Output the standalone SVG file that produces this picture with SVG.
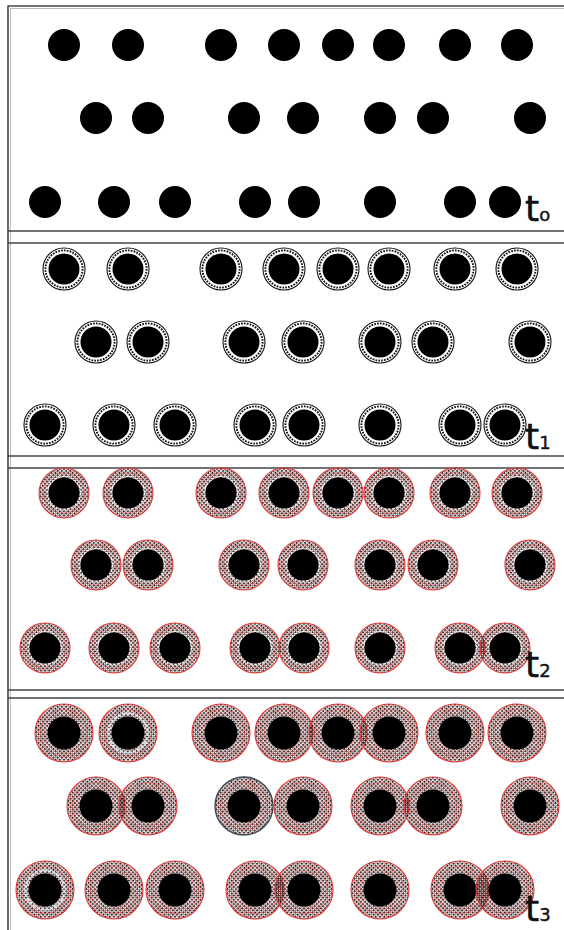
<svg xmlns="http://www.w3.org/2000/svg" xmlns:xlink="http://www.w3.org/1999/xlink" width="564" height="930" viewBox="0 0 564 930">
<style>
.frame{stroke:#444;stroke-width:1.6;fill:none}
.frame2{stroke:#bbb;stroke-width:1;fill:none}
.lbl{font-family:"DejaVu Sans",sans-serif;font-size:36px;fill:#111;stroke:#111;stroke-width:0.6}
.sub{font-size:18px;stroke-width:0.4}
.core{fill:#000}
.red{stroke:#e23a3a;fill:none}
.band{fill:url(#mesh);stroke:#e23a3a}
</style>
<defs>
<pattern id="mesh" width="3" height="3" patternUnits="userSpaceOnUse" patternTransform="rotate(45)">
<rect width="1.8" height="1.8" fill="#111"/>
<rect x="1.8" y="1.8" width="1.2" height="1.2" fill="#d84040" opacity="0.7"/>
</pattern>
<g id="d0"><circle r="16" class="core"/></g>
<g id="d1">
<circle r="21" fill="none" stroke="#111" stroke-width="1.1"/>
<circle r="18.6" fill="none" stroke="#111" stroke-width="1.9" stroke-dasharray="1.7 1.2"/>
<circle r="15.5" class="core"/>
</g>
<g id="d2">
<circle r="25" class="band" stroke-width="1.1"/>
<circle r="20.5" class="red" stroke-width="0.6" opacity="0.7"/>
<circle r="16.5" fill="none" stroke="#fff" stroke-width="1.2" stroke-dasharray="2 2"/>
<circle r="15.5" class="core"/>
</g>
<g id="d3">
<circle r="29" class="band" stroke-width="1.1"/>
<circle r="23.5" class="red" stroke-width="0.7" opacity="0.75"/>
<circle r="19.5" class="red" stroke-width="0.5" opacity="0.5"/>
<circle r="16.5" class="core"/>
</g>
<g id="d3b">
<circle r="29" class="band" style="stroke:#3d4a58" stroke-width="1.4"/>
<circle r="23.5" class="red" stroke-width="0.7" opacity="0.75"/>
<circle r="19.5" class="red" stroke-width="0.5" opacity="0.5"/>
<circle r="16.5" class="core"/>
</g>
<g id="d3w">
<circle r="29" class="band" stroke-width="1.1"/>
<circle r="23.5" class="red" stroke-width="0.7" opacity="0.75"/>
<circle r="19.5" fill="none" stroke="#d8e0e8" stroke-width="2.2" stroke-dasharray="3 1.5"/>
<circle r="16.5" class="core"/>
</g>
</defs>
<rect width="564" height="930" fill="#fff"/>
<g id="frames">
<line class="frame" x1="8" y1="6" x2="564" y2="6"/>
<line class="frame2" x1="10" y1="8.5" x2="564" y2="8.5"/>
<line class="frame" x1="8" y1="5.5" x2="8" y2="930"/>
<line class="frame2" x1="10.5" y1="8" x2="10.5" y2="930"/>
<line class="frame" x1="8" y1="231" x2="564" y2="231"/>
<line class="frame" x1="8" y1="243" x2="564" y2="243"/>
<line class="frame" x1="8" y1="456" x2="564" y2="456"/>
<line class="frame" x1="8" y1="468" x2="564" y2="468"/>
<line class="frame" x1="8" y1="690" x2="564" y2="690"/>
<line class="frame" x1="8" y1="698" x2="564" y2="698"/>
</g>
<g id="panel-t0">
<use id="p0-1-1" href="#d0" x="64" y="45"/><use id="p0-1-2" href="#d0" x="128" y="45"/><use id="p0-1-3" href="#d0" x="221" y="45"/><use id="p0-1-4" href="#d0" x="284" y="45"/><use id="p0-1-5" href="#d0" x="338" y="45"/><use id="p0-1-6" href="#d0" x="389" y="45"/><use id="p0-1-7" href="#d0" x="455" y="45"/><use id="p0-1-8" href="#d0" x="517" y="45"/>
<use id="p0-2-1" href="#d0" x="96" y="118"/><use id="p0-2-2" href="#d0" x="148" y="118"/><use id="p0-2-3" href="#d0" x="244" y="118"/><use id="p0-2-4" href="#d0" x="303" y="118"/><use id="p0-2-5" href="#d0" x="380" y="118"/><use id="p0-2-6" href="#d0" x="433" y="118"/><use id="p0-2-7" href="#d0" x="530" y="118"/>
<use id="p0-3-1" href="#d0" x="45" y="202"/><use id="p0-3-2" href="#d0" x="114" y="202"/><use id="p0-3-3" href="#d0" x="175" y="202"/><use id="p0-3-4" href="#d0" x="255" y="202"/><use id="p0-3-5" href="#d0" x="304" y="202"/><use id="p0-3-6" href="#d0" x="380" y="202"/><use id="p0-3-7" href="#d0" x="460" y="202"/><use id="p0-3-8" href="#d0" x="505" y="202"/>
<text class="lbl" x="525" y="221">t<tspan class="sub">o</tspan></text>
</g>
<g id="panel-t1">
<use id="p1-1-1" href="#d1" x="64" y="269"/><use id="p1-1-2" href="#d1" x="128" y="269"/><use id="p1-1-3" href="#d1" x="221" y="269"/><use id="p1-1-4" href="#d1" x="284" y="269"/><use id="p1-1-5" href="#d1" x="338" y="269"/><use id="p1-1-6" href="#d1" x="389" y="269"/><use id="p1-1-7" href="#d1" x="455" y="269"/><use id="p1-1-8" href="#d1" x="517" y="269"/>
<use id="p1-2-1" href="#d1" x="96" y="342"/><use id="p1-2-2" href="#d1" x="148" y="342"/><use id="p1-2-3" href="#d1" x="244" y="342"/><use id="p1-2-4" href="#d1" x="303" y="342"/><use id="p1-2-5" href="#d1" x="380" y="342"/><use id="p1-2-6" href="#d1" x="433" y="342"/><use id="p1-2-7" href="#d1" x="530" y="342"/>
<use id="p1-3-1" href="#d1" x="45" y="425"/><use id="p1-3-2" href="#d1" x="114" y="425"/><use id="p1-3-3" href="#d1" x="175" y="425"/><use id="p1-3-4" href="#d1" x="255" y="425"/><use id="p1-3-5" href="#d1" x="304" y="425"/><use id="p1-3-6" href="#d1" x="380" y="425"/><use id="p1-3-7" href="#d1" x="460" y="425"/><use id="p1-3-8" href="#d1" x="505" y="425"/>
<text class="lbl" x="525" y="449">t<tspan class="sub">1</tspan></text>
</g>
<g id="panel-t2">
<use id="p2-1-1" href="#d2" x="64" y="493"/><use id="p2-1-2" href="#d2" x="128" y="493"/><use id="p2-1-3" href="#d2" x="221" y="493"/><use id="p2-1-4" href="#d2" x="284" y="493"/><use id="p2-1-5" href="#d2" x="338" y="493"/><use id="p2-1-6" href="#d2" x="389" y="493"/><use id="p2-1-7" href="#d2" x="455" y="493"/><use id="p2-1-8" href="#d2" x="517" y="493"/>
<use id="p2-2-1" href="#d2" x="96" y="565"/><use id="p2-2-2" href="#d2" x="148" y="565"/><use id="p2-2-3" href="#d2" x="244" y="565"/><use id="p2-2-4" href="#d2" x="303" y="565"/><use id="p2-2-5" href="#d2" x="380" y="565"/><use id="p2-2-6" href="#d2" x="433" y="565"/><use id="p2-2-7" href="#d2" x="530" y="565"/>
<use id="p2-3-1" href="#d2" x="45" y="648"/><use id="p2-3-2" href="#d2" x="114" y="648"/><use id="p2-3-3" href="#d2" x="175" y="648"/><use id="p2-3-4" href="#d2" x="255" y="648"/><use id="p2-3-5" href="#d2" x="304" y="648"/><use id="p2-3-6" href="#d2" x="380" y="648"/><use id="p2-3-7" href="#d2" x="460" y="648"/><use id="p2-3-8" href="#d2" x="505" y="648"/>
<text class="lbl" x="525" y="677">t<tspan class="sub">2</tspan></text>
</g>
<g id="panel-t3">
<use id="p3-1-1" href="#d3" x="64" y="733"/><use id="p3-1-2" href="#d3w" x="128" y="733"/><use id="p3-1-3" href="#d3" x="221" y="733"/><use id="p3-1-4" href="#d3" x="284" y="733"/><use id="p3-1-5" href="#d3" x="338" y="733"/><use id="p3-1-6" href="#d3" x="389" y="733"/><use id="p3-1-7" href="#d3" x="455" y="733"/><use id="p3-1-8" href="#d3" x="517" y="733"/>
<use id="p3-2-1" href="#d3" x="96" y="806"/><use id="p3-2-2" href="#d3" x="148" y="806"/><use id="p3-2-3" href="#d3b" x="244" y="806"/><use id="p3-2-4" href="#d3" x="303" y="806"/><use id="p3-2-5" href="#d3" x="380" y="806"/><use id="p3-2-6" href="#d3" x="433" y="806"/><use id="p3-2-7" href="#d3" x="530" y="806"/>
<use id="p3-3-1" href="#d3w" x="45" y="890"/><use id="p3-3-2" href="#d3" x="114" y="890"/><use id="p3-3-3" href="#d3" x="175" y="890"/><use id="p3-3-4" href="#d3" x="255" y="890"/><use id="p3-3-5" href="#d3" x="304" y="890"/><use id="p3-3-6" href="#d3" x="380" y="890"/><use id="p3-3-7" href="#d3" x="460" y="890"/><use id="p3-3-8" href="#d3" x="505" y="890"/>
<text class="lbl" x="525" y="921">t<tspan class="sub">3</tspan></text>
</g>
</svg>
